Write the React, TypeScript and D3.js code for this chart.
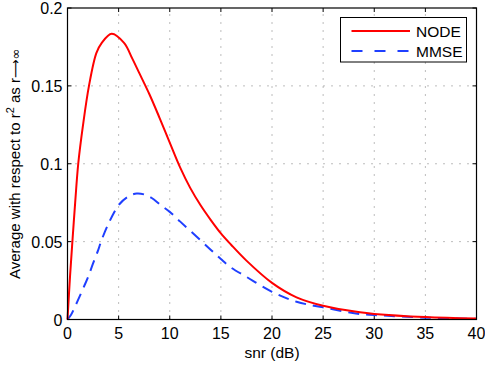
import React, { useEffect, useRef } from "react";
import * as d3 from "d3";

// values
const nodeSnr = [0, 0.25, 0.5, 0.75, 1.05, 1.52, 2.1, 2.82, 3.35, 4.32, 5.53, 6.34, 7, 8, 9, 10, 11, 12, 13, 14, 15, 16, 17.5, 20, 22.4, 25, 28.6, 30, 35, 40];
const nodeVals = [0, 0.028, 0.052, 0.075, 0.1, 0.125, 0.15, 0.171, 0.1776, 0.1835, 0.1776, 0.1675, 0.1585, 0.1448, 0.1295, 0.1135, 0.0978, 0.0845, 0.0735, 0.064, 0.0553, 0.048, 0.0378, 0.0235, 0.0142, 0.0088, 0.0046, 0.0036, 0.0016, 0.0006];

const mmseSnr = [0, 0.35, 0.73, 1.2, 1.6, 2, 2.5, 3, 3.28, 4, 5.07, 6, 6.77, 7.5, 8.24, 9.05, 10, 11, 12.64, 14, 15, 15.9, 17.5, 20, 22.4, 25, 28.6, 30, 35, 40];
const mmseVals = [0, 0.003, 0.0082, 0.015, 0.021, 0.027, 0.036, 0.0445, 0.05, 0.0615, 0.074, 0.0792, 0.0809, 0.0803, 0.078, 0.0738, 0.0691, 0.063, 0.0531, 0.0448, 0.0388, 0.0338, 0.0274, 0.0178, 0.0114, 0.0078, 0.0035, 0.0029, 0.0012, 0.0004];

const xTicks = [0, 5, 10, 15, 20, 25, 30, 35, 40];
const yTicks = [0, 0.05, 0.1, 0.15, 0.2];
const yTickLabels = ["0", "0.05", "0.1", "0.15", "0.2"];

const seriesNames = ["NODE", "MMSE"];

export default function App() {
  const svgRef = useRef<SVGSVGElement>(null);

  useEffect(() => {
    if (!svgRef.current) return;
    const svg = d3.select(svgRef.current);
    svg.selectAll("*").remove();

    const left = 67.5, right = 476.5, top = 8, bottom = 319.5;
    const font = "'Liberation Sans', Arial, Helvetica, sans-serif";

    const x = d3.scaleLinear().domain([0, 40]).range([left, right]);
    const y = d3.scaleLinear().domain([0, 0.2]).range([bottom, top]);

    svg.append("rect").attr("width", 485).attr("height", 365).attr("fill", "#fff");

    // grid
    const grid = svg.append("g").attr("stroke", "#7a7a7a").attr("stroke-width", 1).attr("stroke-dasharray", "1,7");
    xTicks.slice(1, -1).forEach((t) => {
      grid.append("line").attr("x1", x(t)).attr("x2", x(t)).attr("y1", bottom).attr("y2", top);
    });
    yTicks.slice(1, -1).forEach((t) => {
      grid.append("line").attr("x1", left).attr("x2", right).attr("y1", y(t)).attr("y2", y(t));
    });

    // inward ticks on all four sides
    const ticks = svg.append("g").attr("stroke", "#000").attr("stroke-width", 1);
    xTicks.forEach((t) => {
      ticks.append("line").attr("x1", x(t)).attr("x2", x(t)).attr("y1", bottom).attr("y2", bottom - 4);
      ticks.append("line").attr("x1", x(t)).attr("x2", x(t)).attr("y1", top).attr("y2", top + 4);
    });
    yTicks.forEach((t) => {
      ticks.append("line").attr("x1", left).attr("x2", left + 4).attr("y1", y(t)).attr("y2", y(t));
      ticks.append("line").attr("x1", right).attr("x2", right - 4).attr("y1", y(t)).attr("y2", y(t));
    });

    // curves
    const line = d3
      .line<[number, number]>()
      .x((d) => x(d[0]))
      .y((d) => y(d[1]))
      .curve(d3.curveCatmullRom.alpha(0.5));

    const plot = svg.append("g");
    plot
      .append("path")
      .datum(mmseSnr.map((s, i) => [s, mmseVals[i]] as [number, number]))
      .attr("fill", "none")
      .attr("stroke", "#1f3fff")
      .attr("stroke-width", 2)
      .attr("stroke-dasharray", "11,7")
      .attr("d", line);
    plot
      .append("path")
      .datum(nodeSnr.map((s, i) => [s, nodeVals[i]] as [number, number]))
      .attr("fill", "none")
      .attr("stroke", "#ff0000")
      .attr("stroke-width", 2)
      .attr("d", line);

    // axes box
    svg
      .append("rect")
      .attr("x", left)
      .attr("y", top)
      .attr("width", right - left)
      .attr("height", bottom - top)
      .attr("fill", "none")
      .attr("stroke", "#000")
      .attr("stroke-width", 1.2);

    // tick labels
    const labels = svg.append("g").attr("font-family", font).attr("font-size", 16).attr("fill", "#000");
    xTicks.forEach((t) => {
      labels.append("text").attr("x", x(t)).attr("y", 339).attr("text-anchor", "middle").text(String(t));
    });
    yTicks.forEach((t, i) => {
      labels
        .append("text")
        .attr("x", 62.5)
        .attr("y", y(t) + 6)
        .attr("text-anchor", "end")
        .text(yTickLabels[i]);
    });

    // axis titles
    svg
      .append("text")
      .attr("font-family", font)
      .attr("font-size", 15.5)
      .attr("x", (left + right) / 2)
      .attr("y", 358)
      .attr("text-anchor", "middle")
      .text("snr (dB)");

    const yl = svg
      .append("text")
      .attr("font-family", font)
      .attr("font-size", 15)
      .attr("text-anchor", "middle")
      .attr("transform", `translate(20,${(top + bottom) / 2}) rotate(-90)`);
    yl.append("tspan").text("Average with respect to r");
    yl.append("tspan").attr("font-size", 11).attr("dy", -6).text("2");
    yl.append("tspan").attr("dy", 6).text(" as r");
    yl.append("tspan").attr("font-family", "'DejaVu Sans', sans-serif").attr("font-size", 13).text("\u27f6\u221e");

    // legend
    const legend = svg.append("g");
    legend
      .append("rect")
      .attr("x", 340.5)
      .attr("y", 17.5)
      .attr("width", 126)
      .attr("height", 44.5)
      .attr("fill", "#fff")
      .attr("stroke", "#000")
      .attr("stroke-width", 1);
    const colors = ["#ff0000", "#1f3fff"];
    seriesNames.forEach((name, i) => {
      const ly = 31 + i * 20;
      legend
        .append("line")
        .attr("x1", 351.5)
        .attr("x2", 410)
        .attr("y1", ly)
        .attr("y2", ly)
        .attr("stroke", colors[i])
        .attr("stroke-width", 2)
        .attr("stroke-dasharray", i === 1 ? "11,12" : null);
      legend
        .append("text")
        .attr("x", 416)
        .attr("y", ly + 5.5)
        .attr("font-family", font)
        .attr("font-size", 15.5)
        .text(name);
    });
  }, []);

  return (
    <div style={{ position: "absolute", left: 0, top: 0 }}>
      <svg ref={svgRef} width={485} height={365} style={{ display: "block" }} />
    </div>
  );
}
